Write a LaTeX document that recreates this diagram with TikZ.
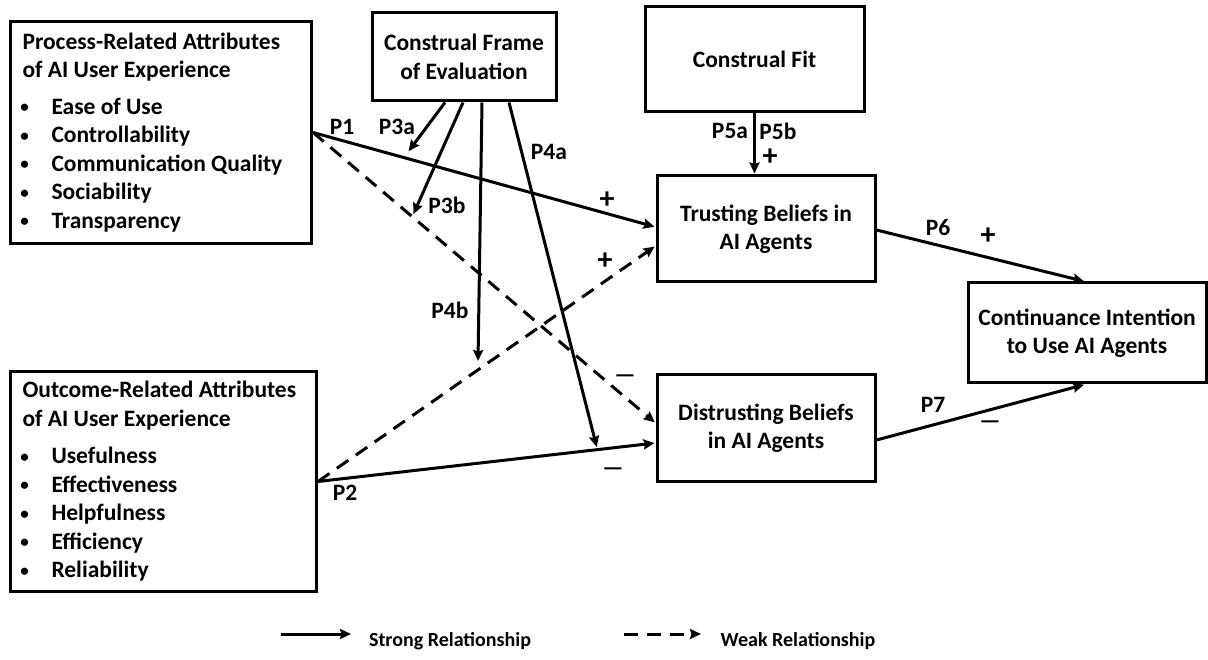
\documentclass[tikz,border=0pt]{standalone}
\usepackage{fontspec}
\setmainfont{Carlito}
\usetikzlibrary{arrows,arrows.meta}
\usetikzlibrary{positioning}

\newcommand{\attritem}[1]{\hspace*{-2pt}\makebox[31pt][l]{\raisebox{1.5pt}{\fontsize{17}{17}\selectfont\textbullet}}#1}

\begin{document}
\begin{tikzpicture}[x=1pt,y=-1pt,>={Stealth[length=11pt,width=10pt,inset=1.5pt]},shorten >=1pt,line width=3pt,
    every node/.style={font=\bfseries\fontsize{23.5}{28.5}\selectfont},
    main node/.style={rectangle,draw,line width=3pt,align=center,inner sep=0pt},
    attr node/.style={rectangle,draw,line width=3pt,align=flush left,inner xsep=12pt,inner ysep=0pt,anchor=north west},
    weak/.style={dash pattern=on 14pt off 9pt},
    path label/.style={inner sep=1pt},
    sign/.style={inner sep=0pt,font=\bfseries\fontsize{30}{30}\selectfont},
    legend text/.style={font=\bfseries\fontsize{20}{24}\selectfont}]

  \useasboundingbox (0,0) rectangle (1208,660);

  % boxes
  \node[attr node,text width=277pt,minimum height=222pt] (proc) at (9,20)
    {Process-Related Attributes\\ of AI User Experience\\[8pt]
     \attritem{Ease of Use}\\ \attritem{Controllability}\\
     \attritem{Communication Quality}\\ \attritem{Sociability}\\
     \attritem{Transparency}};
  \node[attr node,text width=282pt,minimum height=220pt] (outc) at (9,370)
    {Outcome-Related Attributes\\ of AI User Experience\\[9pt]
     \attritem{Usefulness}\\ \attritem{Effectiveness}\\
     \attritem{Helpfulness}\\ \attritem{Efficiency}\\
     \attritem{Reliability}};
  \node[main node,minimum width=184pt,minimum height=88pt] (frame) at (464,57) {Construal Frame\\of Evaluation};
  \node[main node,minimum width=219pt,minimum height=105pt] (fit) at (754.5,59.5) {Construal Fit};
  \node[main node,minimum width=218pt,minimum height=106pt] (trust) at (766,229) {Trusting Beliefs in\\AI Agents};
  \node[main node,minimum width=218pt,minimum height=106pt] (distrust) at (766,428) {Distrusting Beliefs\\in AI Agents};
  \node[main node,minimum width=238pt,minimum height=100pt] (cont) at (1087,333) {Continuance Intention\\to Use AI Agents};

  % moderating arrow ends
  \coordinate (m3a) at (408,152);
  \coordinate (m3b) at (413,215);
  \coordinate (m4b) at (478,362);
  \coordinate (m4a) at (597,448);

  \path[->]
    (proc.east) edge ([yshift=2pt]trust.west)
    (proc.east) edge[weak] ([yshift=5pt]distrust.west)
    (outc.east) edge ([yshift=-15pt]distrust.west)
    (outc.east) edge[weak] ([yshift=-17pt]trust.west)
    ([xshift=-19pt]frame.south) edge (m3a)
    ([xshift=-1pt]frame.south) edge (m3b)
    ([xshift=18pt]frame.south) edge (m4b)
    ([xshift=45pt]frame.south) edge (m4a)
    (fit.south) edge (fit.south |- trust.north)
    ([yshift=-1pt]trust.east) edge ([xshift=-2pt]cont.north)
    ([yshift=-12pt]distrust.east) edge ([xshift=-2pt]cont.south);

  % labels
  \node[path label] (p1) at (342,127) {P1};
  \node[path label] (p2) at (345,493) {P2};
  \node[path label] (p3a) at (397,127) {P3a};
  \node[path label] (p3b) at (447,205) {P3b};
  \node[path label] (p4a) at (549,152) {P4a};
  \node[path label] (p4b) at (450,310) {P4b};
  \node[path label] (p5a) at (730,131) {P5a};
  \node[path label] (p5b) at (778,131) {P5b};
  \node[path label] (p6) at (938,228) {P6};
  \node[path label] (p7) at (933,405) {P7};
  \node[sign] (s1) at (607,200) {+};
  \node[sign] (s2) at (605,261) {+};
  \node[path label] (s3) at (625,379) {\textemdash};
  \node[path label] (s4) at (613,472) {\textemdash};
  \node[sign] (s5) at (770,157) {+};
  \node[sign] (s6) at (988,236) {+};
  \node[path label] (s7) at (990,425) {\textemdash};

  % legend
  \coordinate (ls1) at (281,634);
  \coordinate (ls2) at (352,634);
  \coordinate (lw1) at (624,634);
  \coordinate (lw2) at (702,634);
  \draw[->] (ls1) -- (ls2);
  \draw[->,weak] (lw1) -- (lw2);
  \node[legend text] (strong) at (450,641) {Strong Relationship};
  \node[legend text] (weaklbl) at (798,641) {Weak Relationship};
\end{tikzpicture}
\end{document}
